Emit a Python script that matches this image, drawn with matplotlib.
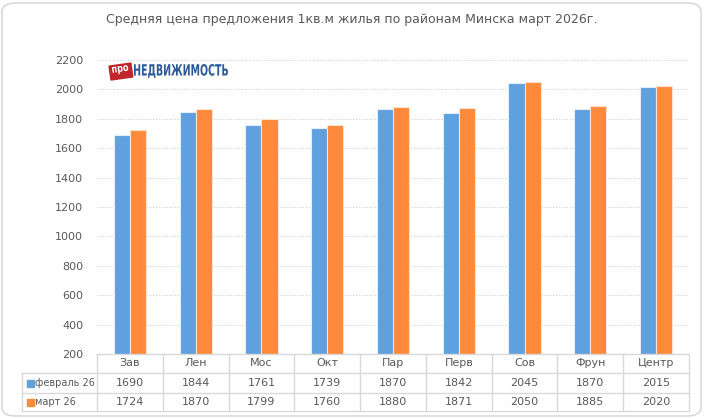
import numpy as np
import matplotlib
matplotlib.use("Agg")
import matplotlib.pyplot as plt
from matplotlib.patches import FancyBboxPatch, Rectangle, PathPatch
from matplotlib.transforms import blended_transform_factory, Affine2D, IdentityTransform
from matplotlib.textpath import TextPath
from matplotlib.font_manager import FontProperties

# данные
districts = ["Зав", "Лен", "Мос", "Окт", "Пар", "Перв", "Сов", "Фрун", "Центр"]
feb26 = [1690, 1844, 1761, 1739, 1870, 1842, 2045, 1870, 2015]
mar26 = [1724, 1870, 1799, 1760, 1880, 1871, 2050, 1885, 2020]
series_names = ["февраль 26", "март 26"]
colors = ["#5fa0df", "#ff8a3b"]

W, H = 704, 418
fig = plt.figure(figsize=(W / 100, H / 100), dpi=100)
fig.patch.set_facecolor("white")

# рамка вокруг диаграммы
frame = FancyBboxPatch((2 / W, 2 / H), 699 / W, 413 / H,
                       boxstyle="round,pad=0,rounding_size=0.02",
                       transform=fig.transFigure, fill=False,
                       edgecolor="#d9d9d9", linewidth=1.2)
fig.patches.append(frame)

fig.text(352 / W, 1 - 20 / H,
         "Средняя цена предложения 1кв.м жилья по районам Минска март 2026г.",
         ha="center", va="center", fontsize=9, color="#595959")

left, right, top, bottom = 97, 689, 60, 354
ax = fig.add_axes([left / W, 1 - bottom / H, (right - left) / W, (bottom - top) / H])

x = np.arange(len(districts))
bw = 0.245
ax.bar(x - bw / 2, feb26, bw, bottom=0, color=colors[0], edgecolor="#e3eefa", linewidth=0.8, zorder=3)
ax.bar(x + bw / 2, mar26, bw, bottom=0, color=colors[1], edgecolor="#ffe3d0", linewidth=0.8, zorder=3)

ax.set_ylim(200, 2200)
ax.set_xlim(-0.5, len(districts) - 0.5)
ax.set_yticks(np.arange(200, 2201, 200))
ax.tick_params(axis="y", length=0, pad=10, labelsize=8, labelcolor="#595959")
ax.set_xticks([])
ax.grid(axis="y", color="#d0d0d0", linestyle=(0, (1, 1.5)), linewidth=0.8, zorder=0)
for s in ax.spines.values():
    s.set_visible(False)

# таблица данных под осями
tr = blended_transform_factory(ax.transData, fig.transFigure)
row_y = [354, 373, 393, 411]   # границы строк в пикселях
fy = lambda p: 1 - p / H
line_kw = dict(color="#d9d9d9", linewidth=1.0, clip_on=False)

fig.lines.append(plt.Line2D([left / W, right / W], [fy(row_y[0])] * 2, transform=fig.transFigure, **line_kw))
for yy in row_y[1:]:
    fig.lines.append(plt.Line2D([22 / W, right / W], [fy(yy)] * 2, transform=fig.transFigure, **line_kw))
fig.lines.append(plt.Line2D([22 / W] * 2, [fy(row_y[1]), fy(row_y[3])], transform=fig.transFigure, **line_kw))
for i in range(len(districts) + 1):
    ax.plot([i - 0.5, i - 0.5], [fy(row_y[0]), fy(row_y[3])], transform=tr, **line_kw)

txt = dict(ha="center", va="center", fontsize=8, color="#595959")
for i, d in enumerate(districts):
    ax.text(i, fy((row_y[0] + row_y[1]) / 2), d, transform=tr, **txt)
    ax.text(i, fy((row_y[1] + row_y[2]) / 2), str(feb26[i]), transform=tr, **txt)
    ax.text(i, fy((row_y[2] + row_y[3]) / 2), str(mar26[i]), transform=tr, **txt)

for k, (name, c) in enumerate(zip(series_names, colors)):
    yc = (row_y[k + 1] + row_y[k + 2]) / 2
    fig.patches.append(Rectangle((27 / W, fy(yc + 3.5)), 7 / W, 7 / H,
                                 transform=fig.transFigure, color=c))
    fig.text(35 / W, fy(yc), name, ha="left", va="center", fontsize=7, color="#595959")


def fit_text(s, x0, x1, y0, y1, color, weight="bold", angle=0):
    # текст-путь, вписанный в прямоугольник в пикселях (y сверху вниз)
    tp = TextPath((0, 0), s, size=20, prop=FontProperties(family="DejaVu Sans", weight=weight))
    ext = tp.get_extents()
    sx = (x1 - x0) / ext.width
    sy = (y1 - y0) / ext.height
    t = (Affine2D().translate(-ext.x0, -ext.y0).scale(sx, sy)
         .rotate_deg(angle).translate(x0, H - y1))
    p = PathPatch(t.transform_path(tp), facecolor=color, edgecolor="none",
                  transform=IdentityTransform())
    fig.patches.append(p)


# логотип
box = Rectangle((0, 0), 22, 14, color="#c0272d",
                transform=Affine2D().rotate_deg(8).translate(111, H - 80) + IdentityTransform())
fig.patches.append(box)
fit_text("про", 113, 129, 67, 75, "white", angle=8)
fit_text("НЕДВИЖИМОСТЬ", 134, 228, 64, 78, "#2d5a96")

fig.savefig("out.png", dpi=100)
